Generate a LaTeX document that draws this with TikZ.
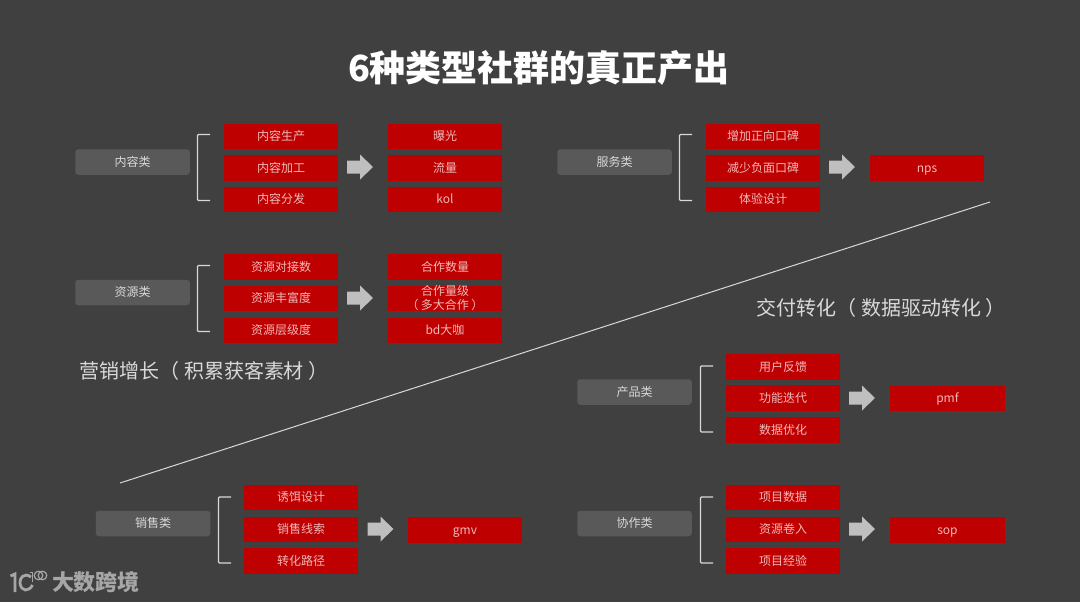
\documentclass[tikz,border=0pt]{standalone}
\usepackage{fontspec}
\setmainfont{Noto Sans CJK SC}[Kerning=Off]
\definecolor{bgc}{HTML}{404040}
\definecolor{redc}{HTML}{BF0000}
\definecolor{tagc}{HTML}{595959}
\definecolor{txtc}{HTML}{F2B8B8}
\definecolor{lightc}{HTML}{D9D9D9}
\definecolor{arrc}{HTML}{BFBFBF}
\definecolor{logoc}{HTML}{A6A6A6}
\tikzset{
 twobox/.style={fill=redc,minimum width=114.5pt,minimum height=25.5pt,inner sep=0pt,align=center,text=txtc,font=\fontsize{12}{14}\selectfont},
 redbox/.style={twobox,text height=8.5pt,text depth=0.5pt},
 tagbox/.style={fill=tagc,rounded corners=3pt,minimum width=114.5pt,minimum height=25.5pt,inner sep=0pt,text=lightc,text height=8.5pt,text depth=0.5pt,font=\fontsize{12}{14}\selectfont},
 brk/.style={draw=lightc,line width=1.1pt,rounded corners=1pt},
 sect/.style={text=lightc,font=\fontsize{20}{24}\selectfont,inner sep=0pt},
}
\newcommand\bigarr[2]{\fill[arrc] (#1-13,#2-6.5) -- (#1,#2-6.5) -- (#1,#2-12.5) -- (#1+13,#2) -- (#1,#2+12.5) -- (#1,#2+6.5) -- (#1-13,#2+6.5) -- cycle;}
\begin{document}
\begin{tikzpicture}[x=1pt,y=-1pt]
\useasboundingbox[fill=bgc] (0,0) rectangle (1080,602);
\node[inner sep=0pt,text=white,font=\fontsize{36}{40}\bfseries\selectfont] (title) at (539,68) {6种类型社群的真正产出};
% content group
\node[tagbox] (t1) at (132.5,162) {内容类};
\draw[brk] (210,134.5) -| (197.5,167.5) |- (210,200.5);
\node[redbox] (a1) at (281,136.5) {内容生产};
\node[redbox] (a2) at (281,168) {内容加工};
\node[redbox] (a3) at (281,199.5) {内容分发};
\bigarr{360}{167}
\node[redbox] (r1) at (445,136.5) {曝光};
\node[redbox] (r2) at (445,168) {流量};
\node[redbox] (r3) at (445,199.5) {kol};
% resource group
\node[tagbox] (t2) at (132.5,292.5) {资源类};
\draw[brk] (210,265.5) -| (197.5,298.5) |- (210,331.5);
\node[redbox] (b1) at (281,267) {资源对接数};
\node[redbox] (b2) at (281,298.5) {资源丰富度};
\node[redbox] (b3) at (281,330.5) {资源层级度};
\bigarr{360}{298}
\node[redbox] (s1) at (445,267) {合作数量};
\node[twobox] (s2) at (445,298.5) {合作量级\\（\hspace{2.5pt}多大合作\hspace{2.5pt}）};
\node[redbox] (s3) at (445,330.5) {bd大咖};
% service group
\node[tagbox] (t3) at (614.5,162) {服务类};
\draw[brk] (692,134.5) -| (679.5,167.5) |- (692,200.5);
\node[redbox] (c1) at (763,136.5) {增加正向口碑};
\node[redbox] (c2) at (763,168) {减少负面口碑};
\node[redbox] (c3) at (763,199.5) {体验设计};
\bigarr{842}{167}
\node[redbox] (u1) at (927,168) {nps};
% product group
\node[tagbox] (t4) at (634.5,392) {产品类};
\draw[brk] (713,366) -| (700.5,399) |- (713,432);
\node[redbox] (d1) at (783,367) {用户反馈};
\node[redbox] (d2) at (783,398) {功能迭代};
\node[redbox] (d3) at (783,430) {数据优化};
\bigarr{862}{398}
\node[redbox] (v1) at (947.5,398.5) {pmf};
% collaboration group
\node[tagbox] (t5) at (634.5,523.5) {协作类};
\draw[brk] (713,497) -| (700.5,530) |- (713,563);
\node[redbox] (e1) at (783,497.5) {项目数据};
\node[redbox] (e2) at (783,529.5) {资源卷入};
\node[redbox] (e3) at (783,561) {项目经验};
\bigarr{862}{529}
\node[redbox] (w1) at (947.5,530) {sop};
% sales group
\node[tagbox] (t6) at (153,523.5) {销售类};
\draw[brk] (231,497) -| (218.5,530) |- (231,563);
\node[redbox] (f1) at (301,497.5) {诱饵设计};
\node[redbox] (f2) at (301,529.5) {销售线索};
\node[redbox] (f3) at (301,561) {转化路径};
\bigarr{380.5}{529}
\node[redbox] (x1) at (465,530) {gmv};
% labels
\node[sect] (l1) at (204,371) {营销增长（\hspace{4.5pt}积累获客素材\hspace{4.5pt}）};
\node[sect] (l2) at (881,307.5) {交付转化（\hspace{4.5pt}数据驱动转化\hspace{4.5pt}）};
% divider
\coordinate (da) at (120,483);
\coordinate (db) at (990,202);
\draw[lightc,line width=1pt] (da) -- (db);
% logo
\draw[logoc,line width=2.8pt] (10.5,576) -- (15,574) -- (15,592);
\draw[logoc,line width=2.8pt] (31,577) .. controls (24,572) and (19.5,578) .. (20,583) .. controls (21,592) and (29,592) .. (32.5,585);
\draw[logoc,line width=1.2pt] (30,572.5) -- (32.5,572.5) -- (32.5,582);
\draw[logoc,line width=1.2pt] (38.5,575.5) circle (4.3);
\draw[logoc,line width=1.2pt] (42.5,575.5) circle (4.3);
\node[inner sep=0pt,text=logoc,font=\fontsize{22}{24}\bfseries\selectfont] (logo) at (96,582.5) {大数跨境};
\end{tikzpicture}
\end{document}
